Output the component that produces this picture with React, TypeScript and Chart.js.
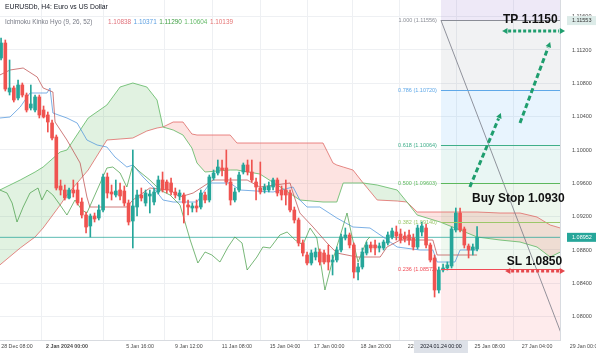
import React, { useEffect, useRef } from "react";
import { Chart, registerables } from "chart.js";
Chart.register(...registerables);

// ---------- candles (H4 bars, index 0..112) ----------
const opens = [
  1.11104, 1.11284, 1.10696, 1.10744, 1.10624, 1.1078, 1.1066, 1.10504, 1.1048, 1.10636,
  1.1048, 1.1042, 1.10324, 1.10156, 1.09568, 1.0952, 1.09424, 1.0952, 1.0952, 1.09376,
  1.0922, 1.09088, 1.09208, 1.09184, 1.0928, 1.09676, 1.09496, 1.0946, 1.0952, 1.09508,
  1.09364, 1.09148, 1.09316, 1.0946, 1.09364, 1.09448, 1.09376, 1.09496, 1.0964, 1.09616,
  1.09604, 1.09496, 1.09448, 1.0946, 1.0934, 1.09304, 1.09328, 1.09316, 1.0946, 1.094,
  1.09664, 1.09724, 1.09784, 1.09784, 1.09616, 1.094, 1.0952, 1.09736, 1.0982, 1.09736,
  1.09616, 1.09544, 1.0952, 1.0952, 1.09556, 1.0964, 1.0952, 1.0952, 1.09484, 1.0928,
  1.0916, 1.08884, 1.0874, 1.08644, 1.08716, 1.08776, 1.08764, 1.0874, 1.08656, 1.0868,
  1.088, 1.08944, 1.0898, 1.0886, 1.08536, 1.08596, 1.08764, 1.0886, 1.0886, 1.08824,
  1.08824, 1.08884, 1.08956, 1.09016, 1.08992, 1.08968, 1.0898, 1.08944, 1.08836, 1.09016,
  1.09064, 1.0886, 1.08704, 1.0832, 1.0856, 1.08584, 1.08608, 1.0904, 1.09244, 1.09052,
  1.08848, 1.088, 1.08812,
];
const highs = [
  1.11344, 1.1132, 1.1108, 1.10768, 1.1084, 1.10804, 1.10684, 1.1078, 1.1066, 1.1066,
  1.10528, 1.10456, 1.1036, 1.1018, 1.0964, 1.0958, 1.09544, 1.0964, 1.09604, 1.09424,
  1.09256, 1.09232, 1.09244, 1.0934, 1.09712, 1.09724, 1.0958, 1.0964, 1.09604, 1.09568,
  1.094, 1.1, 1.0952, 1.09544, 1.0952, 1.0952, 1.09544, 1.09688, 1.09736, 1.0964,
  1.09664, 1.09544, 1.0952, 1.09484, 1.094, 1.09364, 1.094, 1.0952, 1.09496, 1.097,
  1.0976, 1.0988, 1.0988, 1.1, 1.09664, 1.09544, 1.09736, 1.09844, 1.0988, 1.0988,
  1.09664, 1.09856, 1.09592, 1.09616, 1.09664, 1.09664, 1.09568, 1.0964, 1.0952, 1.09316,
  1.09184, 1.0892, 1.08776, 1.088, 1.08824, 1.08812, 1.088, 1.0886, 1.0874, 1.08836,
  1.08992, 1.09064, 1.09004, 1.08884, 1.08644, 1.08824, 1.08896, 1.08896, 1.0892, 1.08884,
  1.0892, 1.09016, 1.09064, 1.09088, 1.09052, 1.09016, 1.0904, 1.08992, 1.091, 1.09136,
  1.09112, 1.08884, 1.0874, 1.08596, 1.08632, 1.08656, 1.09076, 1.09304, 1.09304, 1.09076,
  1.08872, 1.08872, 1.0908,
];
const lows = [
  1.1108, 1.10708, 1.1066, 1.10576, 1.106, 1.10636, 1.10456, 1.1048, 1.10456, 1.10384,
  1.10384, 1.10216, 1.1012, 1.0952, 1.0946, 1.094, 1.09412, 1.09436, 1.0934, 1.09184,
  1.09004, 1.08956, 1.09136, 1.0916, 1.09256, 1.09424, 1.094, 1.09436, 1.094, 1.09328,
  1.091, 1.08824, 1.09208, 1.09388, 1.09328, 1.09244, 1.0934, 1.09472, 1.09496, 1.09484,
  1.0946, 1.09424, 1.094, 1.09124, 1.0922, 1.09256, 1.09256, 1.09292, 1.09364, 1.09376,
  1.0964, 1.097, 1.09688, 1.0958, 1.0934, 1.09376, 1.09496, 1.09712, 1.097, 1.09616,
  1.094, 1.09472, 1.09484, 1.09496, 1.0952, 1.09448, 1.094, 1.0934, 1.09256, 1.09124,
  1.08848, 1.08728, 1.0862, 1.0862, 1.0868, 1.0862, 1.08632, 1.0856, 1.085, 1.08656,
  1.08776, 1.0892, 1.08824, 1.08464, 1.0844, 1.08572, 1.0874, 1.08776, 1.0874, 1.08776,
  1.088, 1.0886, 1.08932, 1.0892, 1.08884, 1.08896, 1.0886, 1.088, 1.08812, 1.08968,
  1.08824, 1.08656, 1.08236, 1.08284, 1.08536, 1.0856, 1.08584, 1.09016, 1.09016, 1.08824,
  1.08704, 1.0874, 1.08788,
];
const closes = [
  1.11284, 1.10732, 1.10744, 1.106, 1.1078, 1.1066, 1.1048, 1.10552, 1.10636, 1.1042,
  1.10396, 1.10336, 1.10144, 1.09544, 1.0952, 1.09424, 1.0952, 1.09484, 1.09364, 1.0922,
  1.09076, 1.09208, 1.09172, 1.0928, 1.09676, 1.09484, 1.09472, 1.09508, 1.09448, 1.09364,
  1.09136, 1.09328, 1.0946, 1.09424, 1.09484, 1.09472, 1.09496, 1.0964, 1.0952, 1.0952,
  1.09496, 1.0946, 1.09484, 1.09364, 1.09316, 1.09328, 1.09304, 1.09484, 1.094, 1.09676,
  1.09724, 1.09796, 1.0976, 1.09616, 1.094, 1.09496, 1.097, 1.0982, 1.09736, 1.0964,
  1.09556, 1.09496, 1.09556, 1.09568, 1.0964, 1.09484, 1.0946, 1.0946, 1.0928, 1.0916,
  1.08884, 1.08764, 1.08644, 1.08764, 1.08776, 1.08656, 1.08656, 1.08656, 1.0868, 1.088,
  1.08956, 1.0898, 1.0886, 1.08536, 1.08596, 1.08776, 1.0886, 1.08824, 1.08824, 1.08848,
  1.08896, 1.0898, 1.09028, 1.08968, 1.0892, 1.08932, 1.0892, 1.08836, 1.09064, 1.09088,
  1.0886, 1.0868, 1.0832, 1.0856, 1.08584, 1.0862, 1.09052, 1.09244, 1.0904, 1.0886,
  1.088, 1.08836, 1.08952,
];

// ---------- Ichimoku lines (bar index, price) ----------
const tenkanIdx = [-0.3, 2.1, 4.5, 6.8, 10.8, 11.5, 12.2, 15.5, 17.9, 20.2, 22.6, 24.9, 26.8, 29.6, 31.0, 33.4, 35.75, 38.1, 40.5, 46.1, 47.5, 49.2, 53.9, 56.2, 64.0, 68.7, 70.3, 72.0, 75.0, 79.0, 82.8, 86.8, 89.9, 93.2, 98.6, 101.6, 102.6, 106.8, 108.0, 112.0];
const tenkanVal = [1.10384, 1.10396, 1.10516, 1.10684, 1.10684, 1.10744, 1.10444, 1.10384, 1.10324, 1.1012, 1.1006, 1.10036, 1.09916, 1.09796, 1.0982, 1.09676, 1.09556, 1.094, 1.09376, 1.09376, 1.09484, 1.09604, 1.09604, 1.0952, 1.09496, 1.09556, 1.094, 1.09316, 1.09316, 1.09184, 1.09076, 1.09064, 1.08956, 1.08836, 1.088, 1.088, 1.08656, 1.08656, 1.088, 1.088];

const kijunIdx = [-0.3, 2.1, 5.2, 8.5, 9.9, 12.2, 12.7, 15.5, 18.6, 20.2, 20.9, 29.6, 31.0, 35.0, 39.75, 42.1, 45.2, 49.9, 57.9, 60.9, 68.0, 68.7, 70.3, 73.4, 76.7, 79.0, 83.75, 89.2, 90.8, 93.9, 101.6, 102.6, 112.0];
const kijunVal = [1.109, 1.1096, 1.10984, 1.10876, 1.10744, 1.10696, 1.10336, 1.1012, 1.09844, 1.09436, 1.09316, 1.09316, 1.094, 1.09544, 1.0952, 1.09436, 1.09484, 1.0964, 1.0964, 1.09556, 1.09604, 1.09484, 1.09244, 1.09076, 1.08884, 1.08764, 1.08716, 1.08716, 1.08836, 1.0892, 1.0892, 1.0874, 1.0874];

const chikouIdx = [-0.3, 1.4, 2.6, 3.75, 5.2, 6.8, 8.7, 9.6, 10.8, 12.2, 13.9, 15.5, 17.4, 19.0, 20.2, 22.6, 24.9, 26.3, 28.0, 29.6, 31.0, 32.7, 35.0, 37.4, 39.75, 42.1, 44.5, 46.3, 48.0, 49.6, 51.5, 53.4, 55.0, 56.7, 57.9, 60.2, 61.6, 63.3, 65.6, 67.3, 69.2, 71.0, 72.7, 74.3, 76.2, 77.9, 80.2, 81.4, 82.6, 84.0, 86.1, 86.8];
const chikouVal = [1.0952, 1.09484, 1.09364, 1.09136, 1.09316, 1.09484, 1.09544, 1.094, 1.0952, 1.0946, 1.0934, 1.0922, 1.094, 1.0928, 1.09244, 1.0952, 1.09784, 1.09796, 1.09724, 1.09556, 1.0982, 1.09736, 1.0964, 1.0952, 1.0946, 1.0934, 1.0892, 1.08644, 1.08776, 1.0874, 1.08656, 1.08836, 1.08956, 1.08884, 1.0856, 1.08716, 1.08836, 1.08824, 1.0898, 1.09016, 1.0892, 1.0886, 1.09064, 1.08944, 1.0832, 1.08656, 1.0904, 1.09244, 1.08956, 1.08656, 1.0892, 1.08956];

const cloudIdx = [-0.3, 4.5, 8.0, 9.9, 13.9, 15.5, 20.5, 24.9, 28.0, 31.0, 34.3, 36.7, 38.1, 40.5, 42.8, 44.9, 46.1, 48.0, 53.9, 55.5, 60.9, 66.8, 70.3, 75.75, 78.1, 79.0, 80.5, 82.8, 85.2, 88.5, 93.2, 95.5, 97.9, 103.3, 108.0, 112.0, 117.4, 122.1, 126.1, 129.2, 131.6];
const senkouA = [1.0952, 1.0964, 1.09736, 1.09796, 1.09976, 1.1, 1.10384, 1.1054, 1.10756, 1.10804, 1.10756, 1.106, 1.10276, 1.1024, 1.1018, 1.10024, 1.09844, 1.09736, 1.0976, 1.0976, 1.09712, 1.0952, 1.094, 1.09376, 1.09376, 1.09376, 1.09604, 1.09604, 1.09604, 1.0958, 1.0952, 1.09376, 1.0922, 1.09136, 1.0904, 1.08956, 1.0892, 1.08896, 1.08836, 1.08716, 1.08776];
const senkouB = [1.0862, 1.08824, 1.08956, 1.09064, 1.0934, 1.0946, 1.0976, 1.1012, 1.10132, 1.10144, 1.10228, 1.10264, 1.10276, 1.10336, 1.10336, 1.10192, 1.1018, 1.1018, 1.1018, 1.10084, 1.10084, 1.10084, 1.10084, 1.10084, 1.09844, 1.0982, 1.09796, 1.0976, 1.09604, 1.094, 1.09388, 1.09376, 1.09256, 1.09256, 1.09256, 1.09256, 1.09244, 1.09244, 1.09196, 1.091, 1.09064];

const currentPrice = 1.08952;

// ---------- Fibonacci retracement ----------
const fibLevels = [1, 0.786, 0.618, 0.5, 0.382, 0.236];
const fibPrices = [1.11556, 1.1072, 1.10064, 1.09603, 1.0914, 1.08572];
const fibZeroPrice = 1.0765;
const fibStartIdx = 103.5;
const fibEndIdx = 132.9;

// ---------- axes ----------
const xTickIdx = [3.75, 15.5, 32.7, 44.2, 55.5, 66.8, 77.2, 88.2, 99.3, 115.0, 126.1];
const xTickLabels = ["28 Dec 08:00", "2 Jan 2024 00:00", "5 Jan 16:00", "9 Jan 12:00", "11 Jan 08:00", "15 Jan 04:00", "17 Jan 00:00", "18 Jan 20:00", "22 Jan 16:00", "25 Jan 08:00", "27 Jan 04:00"];
const extraXLabel = { idx: 137.4, text: "29 Jan 00:00" };
const yTicks = [1.08, 1.084, 1.088, 1.092, 1.096, 1.1, 1.104, 1.108, 1.112, 1.116];

// ---------- annotations (bar index, price) ----------
const buyArrow1 = [[110.3, 1.09556], [117.6, 1.10444]];
const buyArrow2 = [[122.1, 1.10324], [129.2, 1.11296]];
const tpArrow = [[117.9, 1.11428], [132.7, 1.11428]];
const slArrow = [[118.6, 1.08548], [132.7, 1.08548]];
const tpText = { idx: 118.1, price: 1.1156, text: "TP 1.1150" };
const buyText = { idx: 110.8, price: 1.09412, text: "Buy Stop 1.0930" };
const slText = { idx: 119.0, price: 1.08656, text: "SL 1.0850" };

const UP = "#26a69a";
const DOWN = "#ef5350";
const FONT = "'Liberation Sans', Arial, sans-serif";

const overlay = {
  id: "overlay",
  beforeDatasetsDraw(chart: any) {
    const { ctx, chartArea, scales } = chart;
    const xs = scales.x, ys = scales.y;
    const x0 = xs.getPixelForValue(fibStartIdx);
    const x1 = chartArea.right;
    ctx.save();
    ctx.beginPath();
    ctx.rect(chartArea.left, chartArea.top, chartArea.width, chartArea.height);
    ctx.clip();
    const bandColors = [
      "rgba(126,87,194,0.13)",
      "rgba(120,123,134,0.10)",
      "rgba(100,181,246,0.15)",
      "rgba(8,153,129,0.09)",
      "rgba(76,175,80,0.10)",
      "rgba(129,199,132,0.13)",
      "rgba(242,54,69,0.10)",
    ];
    const edges = [ys.max, ...fibPrices, fibZeroPrice];
    for (let k = 0; k < edges.length - 1; k++) {
      const ya = ys.getPixelForValue(edges[k]);
      const yb = ys.getPixelForValue(edges[k + 1]);
      ctx.fillStyle = bandColors[k];
      ctx.fillRect(x0, ya, x1 - x0, yb - ya);
    }
    ctx.restore();
  },
  afterDatasetsDraw(chart: any) {
    const { ctx, chartArea, scales } = chart;
    const xs = scales.x, ys = scales.y;
    const x0 = xs.getPixelForValue(fibStartIdx);
    const x1 = chartArea.right;
    const lineColors = ["#8a8d96", "#5fa8e8", "#3fae8a", "#5cb85c", "#9bc76a", "#f04a55"];
    ctx.save();
    ctx.beginPath();
    ctx.rect(chartArea.left, chartArea.top, chartArea.width, chartArea.height);
    ctx.clip();
    ctx.strokeStyle = "rgba(120,123,134,0.8)";
    ctx.lineWidth = 1;
    ctx.beginPath();
    ctx.moveTo(x0, ys.getPixelForValue(fibPrices[0]));
    ctx.lineTo(xs.getPixelForValue(fibEndIdx), ys.getPixelForValue(fibZeroPrice));
    ctx.stroke();
    fibPrices.forEach((p, k) => {
      const y = Math.round(ys.getPixelForValue(p)) + 0.5;
      ctx.strokeStyle = lineColors[k];
      ctx.beginPath();
      ctx.moveTo(x0, y);
      ctx.lineTo(x1, y);
      ctx.stroke();
      ctx.fillStyle = lineColors[k];
      ctx.font = `5.5px ${FONT}`;
      ctx.textAlign = "right";
      ctx.textBaseline = "middle";
      ctx.fillText(`${fibLevels[k].toFixed(3)} (${p.toFixed(5)})`, x0 - 4, y);
    });
    ctx.restore();
  },
  afterDraw(chart: any) {
    const { ctx, chartArea, scales } = chart;
    const xs = scales.x, ys = scales.y;
    const px = (pt: number[]) => [xs.getPixelForValue(pt[0]), ys.getPixelForValue(pt[1])];
    ctx.save();
    ctx.textAlign = "left";
    ctx.textBaseline = "middle";
    ctx.font = `6.8px ${FONT}`;
    ctx.fillStyle = "#131722";
    ctx.fillText("EURUSDb, H4: Euro vs US Dollar", 5, 7);
    ctx.font = `6.4px ${FONT}`;
    ctx.fillStyle = "#787b86";
    ctx.fillText("Ichimoku Kinko Hyo (9, 26, 52)", 5, 22);
    const vals = [["1.10838", "#e0707a"], ["1.10371", "#5a9ee0"], ["1.11290", "#43a047"], ["1.10604", "#66bb6a"], ["1.10139", "#e57373"]];
    let tx = 108;
    vals.forEach(([t, c]) => {
      ctx.fillStyle = c;
      ctx.fillText(t, tx, 22);
      tx += ctx.measureText(t).width + 2.5;
    });

    const dashed = (a: number[], b: number[], color: string, dash: number[], heads: number) => {
      const [ax, ay] = px(a), [bx, by] = px(b);
      const ang = Math.atan2(by - ay, bx - ax);
      const hl = 6;
      ctx.strokeStyle = color;
      ctx.fillStyle = color;
      ctx.lineWidth = 3;
      ctx.setLineDash(dash);
      ctx.beginPath();
      const sx = heads === 2 ? ax + Math.cos(ang) * hl : ax;
      const sy = heads === 2 ? ay + Math.sin(ang) * hl : ay;
      ctx.moveTo(sx, sy);
      ctx.lineTo(bx - Math.cos(ang) * hl, by - Math.sin(ang) * hl);
      ctx.stroke();
      ctx.setLineDash([]);
      const head = (hx: number, hy: number, an: number) => {
        ctx.beginPath();
        ctx.moveTo(hx, hy);
        ctx.lineTo(hx - Math.cos(an - 0.5) * hl, hy - Math.sin(an - 0.5) * hl);
        ctx.lineTo(hx - Math.cos(an + 0.5) * hl, hy - Math.sin(an + 0.5) * hl);
        ctx.closePath();
        ctx.fill();
      };
      head(bx, by, ang);
      if (heads === 2) head(ax, ay, ang + Math.PI);
    };
    const G = "#1f9e6e";
    dashed(buyArrow1[0], buyArrow1[1], G, [5, 3], 1);
    dashed(buyArrow2[0], buyArrow2[1], G, [5, 3], 1);
    dashed(tpArrow[0], tpArrow[1], G, [3, 2], 2);
    dashed(slArrow[0], slArrow[1], "#e5484d", [3, 2], 2);

    ctx.font = `bold 12px ${FONT}`;
    ctx.fillStyle = "#111";
    ctx.textAlign = "left";
    ctx.textBaseline = "middle";
    [tpText, buyText, slText].forEach((t) => {
      ctx.fillText(t.text, xs.getPixelForValue(t.idx), ys.getPixelForValue(t.price));
    });

    const box = (price: number, text: string, bg: string, fg: string) => {
      const y = ys.getPixelForValue(price);
      ctx.fillStyle = bg;
      ctx.fillRect(chartArea.right + 7, y - 4.5, 29, 9);
      ctx.fillStyle = fg;
      ctx.font = `5.5px ${FONT}`;
      ctx.textAlign = "left";
      ctx.fillText(text, chartArea.right + 12, y);
    };
    box(1.11553, "1.11553", "#dcebe8", "#333");
    box(currentPrice, "1.08952", "#26a69a", "#fff");

    ctx.font = `5.3px ${FONT}`;
    ctx.fillStyle = "#4a4a4a";
    ctx.textAlign = "center";
    const ty = chartArea.bottom + 6.5;
    ctx.fillText(extraXLabel.text, xs.getPixelForValue(extraXLabel.idx), ty);
    const bx = xs.getPixelForValue(fibStartIdx);
    ctx.fillStyle = "#dde1e8";
    ctx.fillRect(bx - 27, chartArea.bottom + 1, 54, 12);
    ctx.fillStyle = "#131722";
    ctx.fillText("2024.01.24 00:00", bx, ty);
    ctx.restore();
  },
};

export default function App() {
  const ref = useRef<HTMLCanvasElement>(null);
  useEffect(() => {
    document.body.style.margin = "0";
    const candleIdx = opens.map((_, i) => i);
    const bodies = candleIdx.map((i) => ({ x: i, y: [opens[i], closes[i]] }));
    const wicks = candleIdx.map((i) => ({ x: i, y: [lows[i], highs[i]] }));
    const col = (c: any) => (closes[c.dataIndex] >= opens[c.dataIndex] ? UP : DOWN);
    const pts = (xa: number[], ya: number[]) => xa.map((x, i) => ({ x, y: ya[i] }));
    const lineDs = (data: any, color: string, order: number, extra: any = {}) => ({
      type: "line",
      data,
      borderColor: color,
      borderWidth: 1,
      pointRadius: 0,
      tension: 0,
      fill: false,
      order,
      ...extra,
    });
    const chart = new Chart(ref.current as HTMLCanvasElement, {
      type: "line",
      data: {
        datasets: [
          lineDs(pts(cloudIdx, senkouA), "rgba(102,187,106,0.85)", 5, {
            fill: { target: 1, above: "rgba(76,175,80,0.17)", below: "rgba(244,67,54,0.15)" },
          }),
          lineDs(pts(cloudIdx, senkouB), "rgba(229,115,115,0.85)", 5),
          lineDs(pts([-0.3, 131.6], [currentPrice, currentPrice]), "rgba(38,166,154,0.75)", 4),
          lineDs(pts(chikouIdx, chikouVal), "rgba(76,160,76,0.75)", 3),
          lineDs(pts(kijunIdx, kijunVal), "rgba(190,80,80,0.75)", 3),
          lineDs(pts(tenkanIdx, tenkanVal), "rgba(80,150,220,0.75)", 3),
          {
            type: "bar",
            data: wicks,
            backgroundColor: col,
            barThickness: 1,
            grouped: false,
            borderWidth: 0,
            order: 1,
          } as any,
          {
            type: "bar",
            data: bodies,
            backgroundColor: col,
            barThickness: 3,
            grouped: false,
            borderWidth: 0,
            minBarLength: 1,
            order: 0,
          } as any,
        ],
      } as any,
      options: {
        responsive: false,
        animation: false,
        devicePixelRatio: 1,
        layout: { padding: 0, autoPadding: false },
        plugins: { legend: { display: false }, tooltip: { enabled: false } },
        scales: {
          x: {
            type: "linear",
            min: -0.25,
            max: 131.51,
            offset: false,
            afterBuildTicks: (s: any) => {
              s.ticks = xTickIdx.map((v) => ({ value: v }));
            },
            afterFit: (s: any) => {
              s.height = 13;
              s.paddingLeft = 0;
              s.paddingRight = 0;
            },
            grid: { color: "#eef0f3", drawTicks: false },
            border: { color: "#d8dbe0" },
            ticks: {
              autoSkip: false,
              maxRotation: 0,
              padding: 3,
              color: "#4a4a4a",
              font: (c: any) => ({ family: FONT, size: 5.3, weight: c.index === 1 ? "bold" : "normal" }),
              callback: (_v: any, i: number) => xTickLabels[i],
            },
          },
          y: {
            type: "linear",
            position: "right",
            min: 1.0772,
            max: 1.118,
            afterBuildTicks: (s: any) => {
              s.ticks = yTicks.map((v) => ({ value: v }));
            },
            afterFit: (s: any) => {
              s.width = 36;
              s.paddingTop = 0;
              s.paddingBottom = 0;
            },
            grid: { color: "#eef0f3", drawTicks: false },
            border: { color: "#d8dbe0" },
            ticks: {
              padding: 12,
              color: "#4a4a4a",
              font: { family: FONT, size: 5.5 },
              callback: (v: any) => Number(v).toFixed(5),
            },
          },
        },
      } as any,
      plugins: [overlay],
    });
    return () => chart.destroy();
  }, []);
  return (
    <div style={{ width: 596, height: 353 }}>
      <canvas ref={ref} width={596} height={353} style={{ display: "block" }} />
    </div>
  );
}
